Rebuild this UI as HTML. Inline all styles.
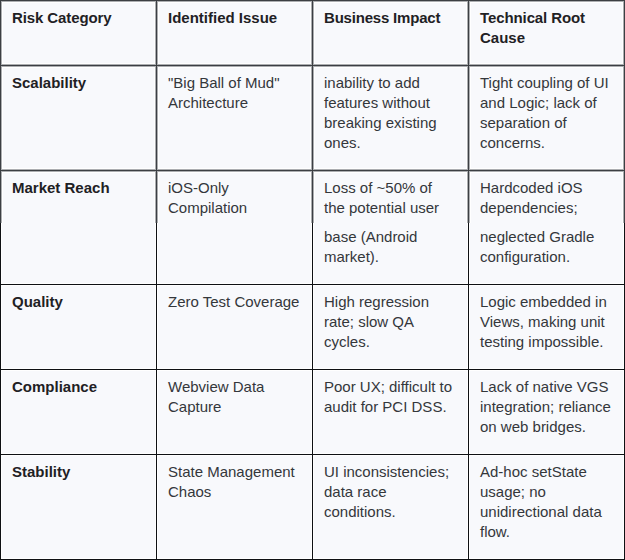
<!DOCTYPE html>
<html><head><meta charset="utf-8"><style>
html,body{margin:0;padding:0;}
body{width:625px;height:560px;overflow:hidden;background:#f8f9fc;position:relative;font-family:"Liberation Sans",sans-serif;}
.t{position:absolute;font-size:15px;line-height:20px;white-space:nowrap;color:#34373b;}
.b{font-weight:bold;color:#1f2124;}
.l{position:absolute;}
</style></head><body>

<div class="t b" style="left:12px;top:8px"><div style="letter-spacing:-0.1px">Risk Category</div></div>
<div class="t b" style="left:168px;top:8px"><div>Identified Issue</div></div>
<div class="t b" style="left:324px;top:8px"><div style="letter-spacing:-0.2px">Business Impact</div></div>
<div class="t b" style="left:480px;top:8px"><div style="letter-spacing:-0.1px">Technical Root</div><div>Cause</div></div>
<div class="t b" style="left:12px;top:73px"><div>Scalability</div></div>
<div class="t" style="left:168px;top:73px"><div>&quot;Big Ball of Mud&quot;</div><div>Architecture</div></div>
<div class="t" style="left:324px;top:73px"><div>inability to add</div><div>features without</div><div>breaking existing</div><div>ones.</div></div>
<div class="t" style="left:480px;top:73px"><div>Tight coupling of UI</div><div>and Logic; lack of</div><div>separation of</div><div>concerns.</div></div>
<div class="t b" style="left:12px;top:178px"><div>Market Reach</div></div>
<div class="t" style="left:168px;top:178px"><div>iOS-Only</div><div>Compilation</div></div>
<div class="t" style="left:324px;top:178px"><div>Loss of ~50% of</div><div>the potential user</div><div style="height:9px"></div><div>base (Android</div><div>market).</div></div>
<div class="t" style="left:480px;top:178px"><div>Hardcoded iOS</div><div>dependencies;</div><div style="height:9px"></div><div>neglected Gradle</div><div>configuration.</div></div>
<div class="t b" style="left:12px;top:292px"><div>Quality</div></div>
<div class="t" style="left:168px;top:292px"><div>Zero Test Coverage</div></div>
<div class="t" style="left:324px;top:292px"><div>High regression</div><div>rate; slow QA</div><div>cycles.</div></div>
<div class="t" style="left:480px;top:292px"><div>Logic embedded in</div><div>Views, making unit</div><div>testing impossible.</div></div>
<div class="t b" style="left:12px;top:377px"><div>Compliance</div></div>
<div class="t" style="left:168px;top:377px"><div>Webview Data</div><div>Capture</div></div>
<div class="t" style="left:324px;top:377px"><div>Poor UX; difficult to</div><div>audit for PCI DSS.</div></div>
<div class="t" style="left:480px;top:377px"><div>Lack of native VGS</div><div>integration; reliance</div><div>on web bridges.</div></div>
<div class="t b" style="left:12px;top:462px"><div>Stability</div></div>
<div class="t" style="left:168px;top:462px"><div>State Management</div><div>Chaos</div></div>
<div class="t" style="left:324px;top:462px"><div>UI inconsistencies;</div><div>data race</div><div>conditions.</div></div>
<div class="t" style="left:480px;top:462px"><div>Ad-hoc setState</div><div>usage; no</div><div>unidirectional data</div><div>flow.</div></div>
<div class="l" style="left:2px;top:0px;width:1px;height:223px;background:#ffffff"></div>
<div class="l" style="left:1px;top:223px;width:1px;height:337px;background:#ffffff"></div>
<div class="l" style="left:154px;top:0px;width:1px;height:223px;background:#ffffff"></div>
<div class="l" style="left:158px;top:0px;width:1px;height:223px;background:#ffffff"></div>
<div class="l" style="left:155px;top:223px;width:1px;height:337px;background:#ffffff"></div>
<div class="l" style="left:157px;top:223px;width:1px;height:337px;background:#ffffff"></div>
<div class="l" style="left:310px;top:0px;width:1px;height:223px;background:#ffffff"></div>
<div class="l" style="left:314px;top:0px;width:1px;height:223px;background:#ffffff"></div>
<div class="l" style="left:311px;top:223px;width:1px;height:337px;background:#ffffff"></div>
<div class="l" style="left:313px;top:223px;width:1px;height:337px;background:#ffffff"></div>
<div class="l" style="left:466px;top:0px;width:1px;height:223px;background:#ffffff"></div>
<div class="l" style="left:470px;top:0px;width:1px;height:223px;background:#ffffff"></div>
<div class="l" style="left:467px;top:223px;width:1px;height:337px;background:#ffffff"></div>
<div class="l" style="left:469px;top:223px;width:1px;height:337px;background:#ffffff"></div>
<div class="l" style="left:622px;top:0px;width:1px;height:223px;background:#ffffff"></div>
<div class="l" style="left:623px;top:223px;width:1px;height:337px;background:#ffffff"></div>
<div class="l" style="left:0px;top:2px;width:625px;height:1px;background:#ffffff"></div>
<div class="l" style="left:0px;top:63px;width:625px;height:1px;background:#ffffff"></div>
<div class="l" style="left:0px;top:67px;width:625px;height:1px;background:#ffffff"></div>
<div class="l" style="left:0px;top:168px;width:625px;height:1px;background:#ffffff"></div>
<div class="l" style="left:0px;top:172px;width:625px;height:1px;background:#ffffff"></div>
<div class="l" style="left:0px;top:283px;width:625px;height:1px;background:#ffffff"></div>
<div class="l" style="left:0px;top:285px;width:625px;height:1px;background:#ffffff"></div>
<div class="l" style="left:0px;top:368px;width:625px;height:1px;background:#ffffff"></div>
<div class="l" style="left:0px;top:370px;width:625px;height:1px;background:#ffffff"></div>
<div class="l" style="left:0px;top:453px;width:625px;height:1px;background:#ffffff"></div>
<div class="l" style="left:0px;top:455px;width:625px;height:1px;background:#ffffff"></div>
<div class="l" style="left:0px;top:558px;width:625px;height:1px;background:#ffffff"></div>
<div class="l" style="left:1px;top:0px;width:1px;height:223px;background:#acaeb1"></div>
<div class="l" style="left:155px;top:0px;width:1px;height:223px;background:#acaeb1"></div>
<div class="l" style="left:157px;top:0px;width:1px;height:223px;background:#acaeb1"></div>
<div class="l" style="left:311px;top:0px;width:1px;height:223px;background:#acaeb1"></div>
<div class="l" style="left:313px;top:0px;width:1px;height:223px;background:#acaeb1"></div>
<div class="l" style="left:467px;top:0px;width:1px;height:223px;background:#acaeb1"></div>
<div class="l" style="left:469px;top:0px;width:1px;height:223px;background:#acaeb1"></div>
<div class="l" style="left:623px;top:0px;width:1px;height:223px;background:#acaeb1"></div>
<div class="l" style="left:0px;top:1px;width:625px;height:1px;background:#acaeb1"></div>
<div class="l" style="left:0px;top:64px;width:625px;height:1px;background:#acaeb1"></div>
<div class="l" style="left:0px;top:66px;width:625px;height:1px;background:#acaeb1"></div>
<div class="l" style="left:0px;top:169px;width:625px;height:1px;background:#acaeb1"></div>
<div class="l" style="left:0px;top:171px;width:625px;height:1px;background:#acaeb1"></div>
<div class="l" style="left:0px;top:0px;width:1px;height:223px;background:#3c3f43"></div>
<div class="l" style="left:0px;top:223px;width:1px;height:337px;background:#0e1013"></div>
<div class="l" style="left:156px;top:0px;width:1px;height:223px;background:#3c3f43"></div>
<div class="l" style="left:156px;top:223px;width:1px;height:337px;background:#0e1013"></div>
<div class="l" style="left:312px;top:0px;width:1px;height:223px;background:#3c3f43"></div>
<div class="l" style="left:312px;top:223px;width:1px;height:337px;background:#0e1013"></div>
<div class="l" style="left:468px;top:0px;width:1px;height:223px;background:#3c3f43"></div>
<div class="l" style="left:468px;top:223px;width:1px;height:337px;background:#0e1013"></div>
<div class="l" style="left:624px;top:0px;width:1px;height:223px;background:#3c3f43"></div>
<div class="l" style="left:624px;top:223px;width:1px;height:337px;background:#0e1013"></div>
<div class="l" style="left:0px;top:0px;width:625px;height:1px;background:#3c3f43"></div>
<div class="l" style="left:0px;top:65px;width:625px;height:1px;background:#3c3f43"></div>
<div class="l" style="left:0px;top:170px;width:625px;height:1px;background:#3c3f43"></div>
<div class="l" style="left:0px;top:284px;width:625px;height:1px;background:#0e1013"></div>
<div class="l" style="left:0px;top:369px;width:625px;height:1px;background:#0e1013"></div>
<div class="l" style="left:0px;top:454px;width:625px;height:1px;background:#0e1013"></div>
<div class="l" style="left:0px;top:559px;width:625px;height:1px;background:#0e1013"></div>
</body></html>
